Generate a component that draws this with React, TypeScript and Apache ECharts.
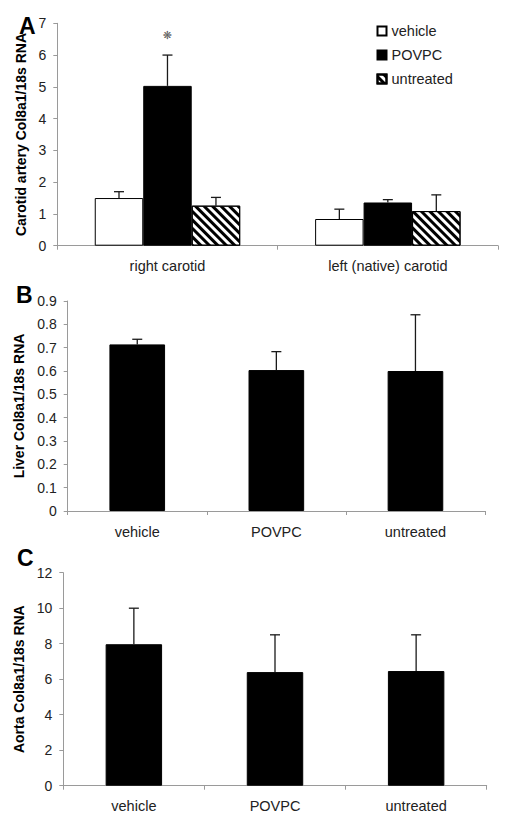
import React, { useEffect, useRef } from "react";
import * as echarts from "echarts";

// ---------- Data ----------
const carotidCategories = ["right carotid", "left (native) carotid"];
const treatmentNames = ["vehicle", "POVPC", "untreated"];
const carotidVehicle = [1.5, 0.84];
const carotidVehicleErr = [0.2, 0.31];
const carotidPOVPC = [5.03, 1.36];
const carotidPOVPCErr = [0.97, 0.09];
const carotidUntreated = [1.26, 1.09];
const carotidUntreatedErr = [0.26, 0.51];
const carotidSignificance = ["❋", ""];

const treatmentCategories = ["vehicle", "POVPC", "untreated"];
const liverValues = [0.714, 0.604, 0.6];
const liverErr = [0.022, 0.079, 0.241];
const aortaValues = [7.97, 6.4, 6.46];
const aortaErr = [2.03, 2.1, 2.04];

const panelLetters = ["A", "B", "C"];
const yNames = [
  "Carotid artery Col8a1/18s RNA",
  "Liver Col8a1/18s RNA",
  "Aorta Col8a1/18s RNA",
];

const FONT = "'Liberation Sans', Arial, sans-serif";
const AXIS_COLOR = "#9a9a9a";
const LABEL_COLOR = "#222";

function errRender(offsetIndex: number, nSeries: number, barFrac: number) {
  return (params: any, api: any) => {
    const cat = api.value(0);
    const val = api.value(1);
    const top = api.value(2);
    const base = api.coord([cat, val]);
    const hi = api.coord([cat, top]);
    const band = api.size([1, 0])[0];
    const x = base[0] + (offsetIndex - (nSeries - 1) / 2) * band * barFrac;
    const cap = 5;
    const st = { stroke: "#1a1a1a", lineWidth: 1.3 };
    return {
      type: "group",
      children: [
        { type: "line", shape: { x1: x, y1: base[1], x2: x, y2: hi[1] }, style: st },
        { type: "line", shape: { x1: x - cap, y1: hi[1], x2: x + cap, y2: hi[1] }, style: st },
      ],
    };
  };
}

function errData(vals: number[], errs: number[]) {
  return vals.map((v, i) => [i, v, v + errs[i]]);
}

export default function App() {
  const ref = useRef<HTMLDivElement>(null);
  useEffect(() => {
    if (!ref.current) return;
    const chart = echarts.init(ref.current, null, { renderer: "svg" });

    const xAxisBase = (idx: number, cats: string[]) => ({
      type: "category",
      gridIndex: idx,
      data: cats,
      axisLine: { lineStyle: { color: AXIS_COLOR, width: 1 } },
      axisTick: { show: true, length: 4, lineStyle: { color: AXIS_COLOR } },
      axisLabel: { color: LABEL_COLOR, fontSize: 14.5, fontFamily: FONT, margin: 13 },
    });
    const yAxisBase = (idx: number, max: number, interval: number, nameGap: number) => ({
      type: "value",
      gridIndex: idx,
      min: 0,
      max,
      interval,
      name: yNames[idx],
      nameLocation: "middle",
      nameGap,
      nameTextStyle: { fontSize: 14, fontWeight: "bold", fontFamily: FONT, color: "#000" },
      axisLine: { show: true, lineStyle: { color: AXIS_COLOR, width: 1 } },
      axisTick: { show: true, length: 4, lineStyle: { color: AXIS_COLOR } },
      axisLabel: { color: LABEL_COLOR, fontSize: 14, fontFamily: FONT, margin: 11 },
      splitLine: { show: false },
    });

    const barFracA = 0.22;
    const groupStyles = [
      { color: "#fff", borderColor: "#000", borderWidth: 1 },
      { color: "#000", borderColor: "#000", borderWidth: 1 },
      {
        color: "#fff",
        borderColor: "#000",
        borderWidth: 1,
        decal: {
          symbol: "rect",
          color: "#000",
          dashArrayX: [1, 0],
          dashArrayY: [2.4, 2.4],
          rotation: Math.PI / 4,
          symbolSize: 1,
        },
      },
    ];
    const aVals = [carotidVehicle, carotidPOVPC, carotidUntreated];
    const aErrs = [carotidVehicleErr, carotidPOVPCErr, carotidUntreatedErr];

    const series: any[] = [];
    treatmentNames.forEach((name, i) => {
      series.push({
        type: "bar",
        name,
        xAxisIndex: 0,
        yAxisIndex: 0,
        data: aVals[i],
        barWidth: barFracA * 100 + "%",
        barGap: "0%",
        itemStyle: groupStyles[i],
        z: 2,
      });
    });
    treatmentNames.forEach((name, i) => {
      series.push({
        type: "custom",
        xAxisIndex: 0,
        yAxisIndex: 0,
        renderItem: errRender(i, 3, barFracA),
        data: errData(aVals[i], aErrs[i]),
        encode: { x: 0, y: [1, 2] },
        z: 3,
        silent: true,
      });
    });
    // significance marker above POVPC error bar
    series.push({
      type: "scatter",
      xAxisIndex: 0,
      yAxisIndex: 0,
      symbolSize: 0,
      data: carotidSignificance.map((s, i) => ({
        value: [i, carotidPOVPC[i] + carotidPOVPCErr[i]],
        label: {
          show: s !== "",
          formatter: s,
          position: "top",
          distance: 14,
          fontSize: 11,
          color: "#333",
          fontFamily: "DejaVu Sans",
        },
      })),
      z: 4,
    });

    const simplePanels = [
      { idx: 1, vals: liverValues, errs: liverErr },
      { idx: 2, vals: aortaValues, errs: aortaErr },
    ];
    simplePanels.forEach((p) => {
      series.push({
        type: "bar",
        xAxisIndex: p.idx,
        yAxisIndex: p.idx,
        data: p.vals,
        barWidth: "40%",
        itemStyle: { color: "#000", borderColor: "#000", borderWidth: 1 },
        z: 2,
      });
      series.push({
        type: "custom",
        xAxisIndex: p.idx,
        yAxisIndex: p.idx,
        renderItem: errRender(0, 1, 0.4),
        data: errData(p.vals, p.errs),
        encode: { x: 0, y: [1, 2] },
        z: 3,
        silent: true,
      });
    });

    const letterPos = [
      { left: 19, top: 14 },
      { left: 16, top: 283 },
      { left: 17, top: 546 },
    ];

    chart.setOption({
      animation: false,
      backgroundColor: "#fff",
      textStyle: { fontFamily: FONT },
      grid: [
        { left: 57.3, top: 23.3, right: 8, height: 222.4 },
        { left: 67.7, top: 301, right: 21, height: 210 },
        { left: 63.3, top: 572.7, right: 19.3, height: 213 },
      ],
      xAxis: [
        xAxisBase(0, carotidCategories),
        xAxisBase(1, treatmentCategories),
        xAxisBase(2, treatmentCategories),
      ],
      yAxis: [
        yAxisBase(0, 7, 1, 25),
        yAxisBase(1, 0.9, 0.1, 31),
        yAxisBase(2, 12, 2, 28.5),
      ],
      legend: {
        data: treatmentNames,
        orient: "vertical",
        left: 376.5,
        top: 23.5,
        padding: 0,
        itemWidth: 9,
        itemHeight: 9,
        itemGap: 9,
        icon: "rect",
        selectedMode: false,
        textStyle: { fontSize: 14.5, color: LABEL_COLOR, fontFamily: FONT },
      },
      graphic: panelLetters.map((l, i) => ({
        type: "text",
        left: letterPos[i].left,
        top: letterPos[i].top,
        style: { text: l, fontSize: 23, fontWeight: "bold", fontFamily: FONT, fill: "#000" },
      })),
      series,
    });
    return () => chart.dispose();
  }, []);
  return (
    <div
      ref={ref}
      style={{ position: "absolute", left: 0, top: 0, width: 506, height: 818, background: "#fff" }}
    />
  );
}
